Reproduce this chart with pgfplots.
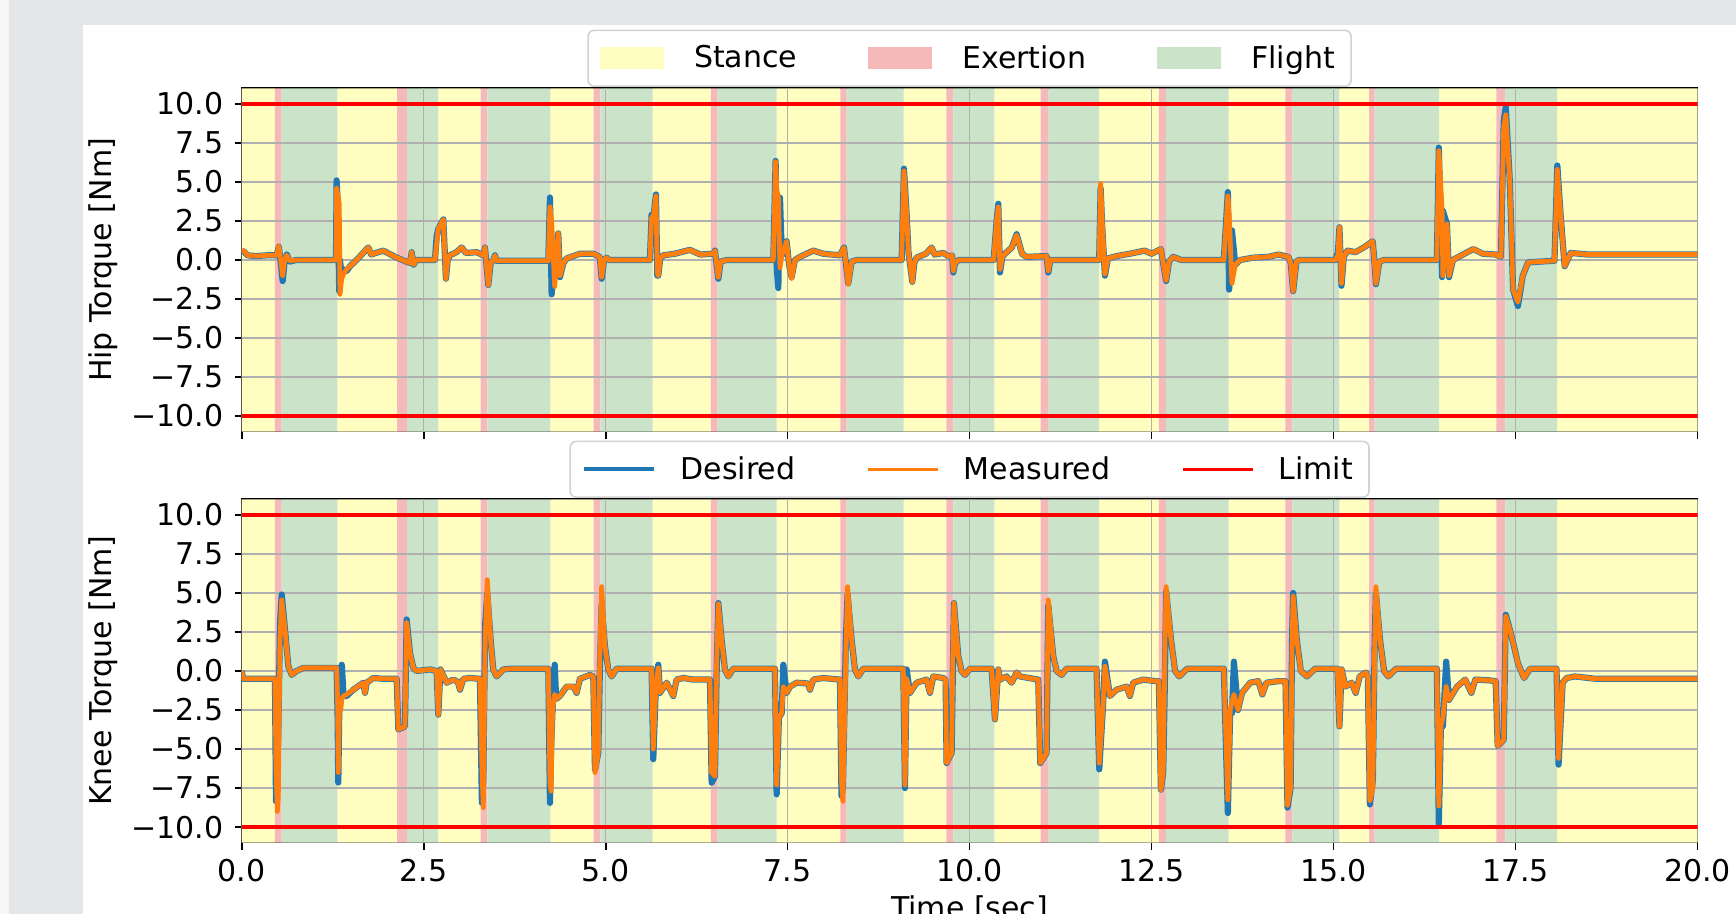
\documentclass[border=0pt]{standalone}
\usepackage{fontspec}
\setmainfont{DejaVu Sans}
\usepackage{pgfplots}
\pgfplotsset{compat=1.18}
\usepackage{pgfplotstable}

\definecolor{tabblue}{RGB}{31,119,180}
\definecolor{taborange}{RGB}{255,127,14}
\definecolor{stancecol}{RGB}{255,253,192}
\definecolor{exertcol}{RGB}{245,185,185}
\definecolor{flightcol}{RGB}{203,228,201}
\definecolor{gridcol}{RGB}{176,176,176}
\definecolor{bggray}{RGB}{229,230,232}
\definecolor{leftlight}{RGB}{246,246,246}
\definecolor{legframe}{RGB}{210,210,210}

\pgfplotstableread{
x y
0 -11
0 11
0.457 11
0.457 -11
1.314 -11
1.314 11
2.134 11
2.134 -11
2.70 -11
2.70 11
3.283 11
3.283 -11
4.24 -11
4.24 11
4.836 11
4.836 -11
5.646 -11
5.646 11
6.447 11
6.447 -11
7.35 -11
7.35 11
8.224 11
8.224 -11
9.095 -11
9.095 11
9.68 11
9.68 -11
10.34 -11
10.34 11
10.976 11
10.976 -11
11.778 -11
11.778 11
12.60 11
12.60 -11
13.558 -11
13.558 11
14.338 11
14.338 -11
15.08 -11
15.08 11
15.487 11
15.487 -11
16.45 -11
16.45 11
17.236 11
17.236 -11
18.07 -11
18.07 11
20 11
20 -11
}\stancetable

\pgfplotstableread{
x y
0.457 -11
0.457 11
0.549 11
0.549 -11
2.134 -11
2.134 11
2.271 11
2.271 -11
3.283 -11
3.283 11
3.374 11
3.374 -11
4.836 -11
4.836 11
4.927 11
4.927 -11
6.447 -11
6.447 11
6.539 11
6.539 -11
8.224 -11
8.224 11
8.311 11
8.311 -11
9.68 -11
9.68 11
9.776 11
9.776 -11
10.976 -11
10.976 11
11.086 11
11.086 -11
12.60 -11
12.60 11
12.695 11
12.695 -11
14.338 -11
14.338 11
14.433 11
14.433 -11
15.487 -11
15.487 11
15.564 11
15.564 -11
17.236 -11
17.236 11
17.36 11
17.36 -11
}\exerttable

\pgfplotstableread{
x y
0.549 -11
0.549 11
1.314 11
1.314 -11
2.271 -11
2.271 11
2.70 11
2.70 -11
3.374 -11
3.374 11
4.24 11
4.24 -11
4.927 -11
4.927 11
5.646 11
5.646 -11
6.539 -11
6.539 11
7.35 11
7.35 -11
8.311 -11
8.311 11
9.095 11
9.095 -11
9.776 -11
9.776 11
10.34 11
10.34 -11
11.086 -11
11.086 11
11.778 11
11.778 -11
12.695 -11
12.695 11
13.558 11
13.558 -11
14.433 -11
14.433 11
15.08 11
15.08 -11
15.564 -11
15.564 11
16.45 11
16.45 -11
17.36 -11
17.36 11
18.07 11
18.07 -11
}\flighttable

\pgfplotstableread{
t d m
0.000 0.45 0.55
0.030 0.55 0.6
0.080 0.3 0.3
0.200 0.25 0.25
0.350 0.3 0.3
0.480 0.3 0.3
0.510 0.85 0.9
0.530 0.1 0.2
0.563 -1.35 -1.0
0.590 -0.1 0.0
0.620 0.35 0.3
0.660 -0.1 -0.05
0.750 0.0 0.0
1.295 0.0 0.0
1.304 5.1 4.6
1.320 3.6 4.2
1.340 -2.0 3.6
1.350 0.0 -2.2
1.373 -1.0 -1.2
1.400 -0.6 -0.9
1.442 -0.7 -0.6
1.488 -0.4 -0.4
1.600 0.1 0.1
1.717 0.7 0.7
1.740 0.8 0.8
1.780 0.35 0.35
1.808 0.4 0.4
1.945 0.6 0.6
2.129 0.15 0.15
2.312 -0.2 -0.2
2.335 0.5 0.5
2.360 -0.3 -0.3
2.400 0.0 0.0
2.655 0.0 0.0
2.678 1.5 1.0
2.701 2.0 2.0
2.770 2.6 2.6
2.790 0.5 0.5
2.806 -1.2 -1.2
2.830 0.0 0.0
2.861 0.3 0.3
2.950 0.5 0.5
3.021 0.8 0.8
3.080 0.45 0.45
3.228 0.5 0.5
3.320 0.3 0.3
3.342 0.8 0.8
3.388 -1.6 -1.6
3.420 -0.2 -0.2
3.457 0.0 0.0
3.479 0.3 0.3
3.500 -0.05 -0.05
4.212 -0.05 -0.05
4.235 4.0 3.4
4.258 -2.2 2.5
4.300 0.5 -1.7
4.349 1.7 1.7
4.372 -1.1 -1.0
4.420 -0.2 -0.2
4.464 0.1 0.1
4.647 0.4 0.4
4.830 0.4 0.4
4.920 0.2 0.2
4.945 -1.2 -1.1
4.980 0.0 0.0
5.013 0.15 0.15
5.050 0.0 0.0
5.608 0.0 0.0
5.631 2.9 2.7
5.660 2.9 2.9
5.691 4.2 4.1
5.710 -1.0 -0.8
5.723 -1.0 -1.0
5.750 0.1 0.1
5.792 0.3 0.3
5.950 0.4 0.4
6.158 0.65 0.65
6.300 0.35 0.35
6.479 0.4 0.4
6.502 0.6 0.6
6.548 -1.2 -1.1
6.580 -0.1 -0.1
6.662 0.0 0.0
7.303 0.0 0.0
7.335 6.35 6.3
7.350 -0.5 4.5
7.372 -1.8 4.0
7.395 4.0 -0.5
7.420 0.3 0.3
7.486 1.2 1.2
7.520 -0.3 -0.3
7.555 -1.1 -1.2
7.600 0.0 0.0
7.669 0.2 0.2
7.853 0.6 0.6
7.990 0.4 0.4
8.219 0.3 0.3
8.274 0.8 0.8
8.300 -0.2 -0.2
8.333 -1.5 -1.55
8.380 -0.1 -0.1
8.448 0.0 0.0
9.066 0.0 0.0
9.098 5.85 5.7
9.135 2.9 2.9
9.160 0.5 0.5
9.213 -1.4 -1.4
9.240 -0.2 -0.2
9.272 0.15 0.15
9.400 0.4 0.4
9.478 0.8 0.8
9.520 0.35 0.35
9.638 0.45 0.45
9.720 0.2 0.2
9.760 0.3 0.3
9.776 -0.8 -0.7
9.800 -0.2 -0.2
9.850 0.0 0.0
10.330 0.0 0.0
10.371 2.5 2.5
10.394 3.6 3.4
10.417 -0.8 -0.6
10.450 0.2 0.2
10.485 0.4 0.4
10.580 0.8 0.8
10.646 1.65 1.6
10.720 0.4 0.4
10.783 0.2 0.2
11.058 0.25 0.25
11.081 -0.8 -0.7
11.110 0.0 0.0
11.780 0.0 0.0
11.800 4.6 4.9
11.820 2.3 2.6
11.859 -1.0 -0.9
11.900 0.1 0.1
12.019 0.25 0.25
12.200 0.4 0.4
12.405 0.6 0.6
12.500 0.4 0.4
12.628 0.7 0.7
12.700 -1.35 -1.3
12.740 -0.1 -0.1
12.795 0.2 0.2
12.907 0.0 0.0
13.492 0.0 0.0
13.548 4.35 4.1
13.565 -1.9 3.0
13.604 1.9 -1.5
13.650 -0.3 -0.3
13.715 0.0 0.0
13.900 0.15 0.15
14.100 0.2 0.2
14.245 0.35 0.35
14.380 0.2 0.2
14.412 -0.2 -0.2
14.445 -2.0 -2.0
14.490 -0.1 -0.1
14.523 0.0 0.0
15.025 0.0 0.0
15.060 0.5 0.3
15.081 2.1 2.1
15.109 -1.65 -1.5
15.140 0.2 0.2
15.192 0.6 0.6
15.300 0.5 0.5
15.415 0.8 0.8
15.538 1.2 1.2
15.560 0.0 0.0
15.582 -1.55 -1.5
15.630 -0.1 -0.1
15.694 0.0 0.0
16.419 0.0 0.0
16.446 7.2 7.0
16.491 -1.1 3.2
16.502 3.15 -1.0
16.558 2.3 2.3
16.586 -1.1 -1.0
16.640 0.0 0.0
16.697 0.15 0.15
16.920 0.7 0.7
17.050 0.4 0.4
17.227 0.35 0.35
17.300 0.2 0.2
17.338 8.9 8.5
17.366 9.8 9.3
17.422 5.0 5.0
17.466 -1.9 -1.9
17.533 -2.95 -2.7
17.600 -1.0 -1.0
17.673 -0.15 -0.15
18.035 -0.05 -0.05
18.074 6.05 5.8
18.119 2.9 2.9
18.175 -0.4 -0.4
18.258 0.45 0.45
18.500 0.35 0.35
20.000 0.35 0.35
}\hiptable

\pgfplotstableread{
t d m
0.000 0.0 0.0
0.020 -0.5 -0.5
0.457 -0.5 -0.5
0.471 -8.35 -6.0
0.490 -6.0 -9.0
0.503 -4.0 -8.0
0.526 3.0 2.0
0.550 4.9 4.55
0.595 2.65 2.65
0.641 0.3 0.3
0.687 -0.25 -0.25
0.755 0.0 0.0
0.847 0.2 0.2
1.304 0.2 0.2
1.318 -3.0 -2.0
1.327 -7.15 -6.5
1.340 -2.7 -2.7
1.360 -1.5 -2.5
1.375 0.4 -1.8
1.400 -1.6 -1.6
1.442 -1.6 -1.5
1.533 -1.2 -1.2
1.671 -0.75 -0.75
1.694 -1.4 -1.4
1.717 -0.75 -0.75
1.808 -0.45 -0.45
1.945 -0.5 -0.5
2.129 -0.5 -0.5
2.152 -3.75 -3.75
2.243 -3.55 -3.55
2.266 3.3 3.1
2.312 1.15 1.15
2.358 0.2 0.2
2.403 0.0 0.0
2.587 0.1 0.1
2.678 0.0 0.0
2.701 -2.8 -2.8
2.730 0.1 0.1
2.770 -0.3 -0.3
2.815 -0.75 -0.75
2.907 -0.55 -0.55
2.970 -0.7 -0.7
2.999 -1.2 -1.2
3.044 -0.5 -0.5
3.136 -0.45 -0.45
3.273 -0.5 -0.5
3.300 -8.45 -6.0
3.319 -7.0 -8.75
3.345 3.0 2.0
3.374 5.0 5.85
3.420 2.0 2.0
3.456 0.1 0.1
3.502 -0.35 -0.35
3.594 0.1 0.1
3.700 0.15 0.15
4.212 0.15 0.15
4.235 -8.45 -7.0
4.250 -5.0 -7.7
4.270 -2.5 -2.5
4.300 0.4 -1.5
4.320 -1.8 -1.8
4.372 -1.6 -1.6
4.464 -1.0 -1.0
4.560 -1.0 -1.0
4.601 -1.4 -1.4
4.647 -0.5 -0.5
4.784 -0.25 -0.25
4.830 -0.35 -0.35
4.853 -6.3 -6.5
4.899 -5.25 -5.25
4.920 0.0 1.0
4.945 4.25 5.4
4.990 1.6 1.6
5.036 0.1 0.1
5.082 -0.35 -0.35
5.151 0.15 0.15
5.631 0.15 0.15
5.654 -5.65 -5.0
5.690 -1.0 -1.0
5.723 0.4 0.2
5.746 -1.4 -1.4
5.838 -0.75 -0.75
5.929 -1.6 -1.6
5.975 -0.55 -0.55
6.067 -0.45 -0.45
6.204 -0.55 -0.55
6.433 -0.55 -0.55
6.456 -7.15 -6.5
6.502 -6.75 -6.75
6.525 0.0 0.5
6.548 4.35 4.3
6.593 2.0 2.0
6.639 0.1 0.1
6.685 -0.35 -0.35
6.754 0.15 0.15
7.326 0.15 0.15
7.349 -7.9 -7.3
7.380 -3.0 -3.0
7.418 -2.7 -2.7
7.441 0.4 -1.0
7.486 -1.4 -1.4
7.532 -1.0 -1.0
7.624 -0.75 -0.75
7.780 -0.8 -0.8
7.807 -1.2 -1.2
7.853 -0.55 -0.55
7.990 -0.45 -0.45
8.219 -0.55 -0.55
8.240 -8.0 -7.0
8.260 -7.5 -8.35
8.300 2.0 1.0
8.324 4.9 5.4
8.379 2.0 2.0
8.425 0.1 0.1
8.471 -0.35 -0.35
8.539 0.15 0.15
9.089 0.15 0.15
9.112 -7.5 -7.3
9.135 0.1 -0.5
9.180 -1.4 -1.4
9.272 -0.75 -0.75
9.409 -0.55 -0.55
9.455 -1.4 -1.4
9.501 -0.35 -0.35
9.638 -0.45 -0.45
9.670 -0.55 -0.55
9.684 -5.9 -5.9
9.753 -5.25 -5.25
9.770 0.0 1.0
9.785 4.35 4.35
9.844 0.95 0.95
9.890 0.0 0.0
9.936 -0.25 -0.25
10.005 0.15 0.15
10.302 0.15 0.15
10.348 -3.1 -3.1
10.394 0.1 0.1
10.417 -0.55 -0.55
10.508 -0.35 -0.35
10.577 -0.75 -0.75
10.646 -0.1 -0.1
10.691 -0.35 -0.35
10.943 -0.55 -0.55
10.970 -5.9 -5.9
11.058 -5.25 -5.25
11.070 0.0 0.5
11.081 4.2 4.55
11.149 0.95 0.95
11.195 0.0 0.0
11.264 -0.25 -0.25
11.333 0.15 0.15
11.744 0.15 0.15
11.781 -6.3 -5.9
11.836 -2.0 -2.0
11.859 0.6 0.3
11.928 -1.6 -1.6
12.019 -1.2 -1.2
12.157 -1.0 -1.0
12.202 -1.6 -1.6
12.248 -0.75 -0.75
12.385 -0.55 -0.55
12.550 -0.65 -0.65
12.600 -0.65 -0.65
12.628 -7.6 -7.6
12.660 -6.5 -6.5
12.685 0.0 2.0
12.700 5.1 5.4
12.767 2.0 2.0
12.823 0.0 0.0
12.879 -0.35 -0.35
12.990 0.15 0.15
13.492 0.15 0.15
13.548 -9.1 -8.25
13.580 -2.5 -2.5
13.604 -2.7 -2.0
13.631 0.6 -1.5
13.687 -2.5 -2.5
13.743 -1.4 -1.4
13.854 -0.75 -0.75
13.966 -0.65 -0.65
14.022 -1.5 -1.5
14.077 -0.75 -0.75
14.245 -0.65 -0.65
14.340 -0.65 -0.65
14.367 -8.75 -8.6
14.410 -7.5 -7.5
14.430 2.0 1.5
14.445 5.0 4.8
14.495 2.0 2.0
14.551 0.0 0.0
14.635 -0.35 -0.35
14.746 0.15 0.15
15.053 0.15 0.15
15.081 -3.55 -3.55
15.110 0.1 0.1
15.164 -1.0 -1.0
15.248 -0.75 -0.75
15.304 -1.4 -1.4
15.360 -0.35 -0.35
15.443 -0.1 -0.1
15.471 -0.35 -0.35
15.499 -8.55 -8.3
15.540 -7.0 -7.5
15.565 2.0 1.5
15.582 5.0 5.4
15.638 2.0 2.0
15.694 0.0 0.0
15.750 -0.35 -0.35
15.861 0.15 0.15
16.419 0.15 0.15
16.446 -9.8 -8.65
16.475 -3.5 -3.5
16.502 -3.55 -3.0
16.547 0.6 -1.0
16.586 -1.85 -1.85
16.697 -1.0 -1.0
16.809 -0.55 -0.55
16.893 -1.4 -1.4
16.948 -0.55 -0.55
17.143 -0.6 -0.6
17.227 -0.65 -0.65
17.255 -4.8 -4.8
17.338 -4.4 -4.4
17.366 3.6 3.5
17.422 2.65 2.65
17.478 1.6 1.6
17.533 0.5 0.5
17.617 -0.45 -0.45
17.701 0.15 0.15
17.812 0.15 0.15
18.063 0.15 0.15
18.091 -6.0 -5.6
18.147 -0.75 -0.75
18.202 -0.45 -0.45
18.314 -0.35 -0.35
18.600 -0.5 -0.5
20.000 -0.5 -0.5
}\kneetable

\pgfplotsset{
  torqueaxis/.style={
    scale only axis,
    width=727.9pt, height=171.7pt,
    xmin=0, xmax=20, ymin=-11, ymax=11,
    axis line style={line width=0.8pt, black},
    xtick={0,2.5,5,7.5,10,12.5,15,17.5,20},
    ytick={-10,-7.5,-5,-2.5,0,2.5,5,7.5,10},
    yticklabels={−10.0,−7.5,−5.0,−2.5,0.0,2.5,5.0,7.5,10.0},
    xtick pos=bottom, ytick pos=left,
    tick align=outside,
    major tick length=3.5pt,
    tick style={black, line width=0.85pt},
    tick label style={font=\fontsize{15}{18}\selectfont, inner sep=0pt},
    yticklabel style={anchor=east, xshift=-5.6pt},
    label style={font=\fontsize{15}{18}\selectfont},
    ylabel style={at={(axis description cs:-0.0953,0.5)}, anchor=center},
    legend columns=3,
    legend cell align=left,
    legend style={
      at={(0.5,1)}, anchor=south, yshift=0.65pt,
      draw=legframe, rounded corners=3pt, line width=0.8pt, fill=white,
      font=\fontsize{15}{18}\selectfont,
      inner xsep=6pt, inner ysep=5.5pt,
      /tikz/every odd column/.append style={column sep=13pt},
      /tikz/every even column/.append style={column sep=33.5pt},
    },
  },
  bandstyle/.style={draw=none, fill=#1, forget plot},
  patchlegend/.style={legend image code/.code={\fill[fill=#1, draw=none, sharp corners] (0pt,-5.4pt) rectangle (32pt,5.4pt);}},
  linelegend/.style={legend image code/.code={\draw[##1, sharp corners, line width=#1] (0pt,0pt) -- (35pt,0pt);}},
  gridlines/.style={gridcol, line width=0.8pt, forget plot},
}

\begin{document}
\begin{tikzpicture}
\useasboundingbox (0pt,0pt) rectangle (868pt,457pt);
\fill[bggray] (0pt,0pt) rectangle (868pt,457pt);
\fill[leftlight] (0pt,0pt) rectangle (4.5pt,457pt);
\fill[white] (41.5pt,0pt) rectangle (868pt,444.5pt);

% Hip
\begin{axis}[torqueaxis,
  at={(120.85pt,241.15pt)}, anchor=south west,
  xticklabels={},
  ylabel={Hip Torque [Nm]},
]
\addplot[bandstyle=stancecol] table[x=x,y=y] {\stancetable};
\addplot[bandstyle=exertcol] table[x=x,y=y] {\exerttable};
\addplot[bandstyle=flightcol] table[x=x,y=y] {\flighttable};
\addlegendimage{patchlegend=stancecol}
\addlegendentry{Stance}
\addlegendimage{patchlegend=exertcol}
\addlegendentry{Exertion}
\addlegendimage{patchlegend=flightcol}
\addlegendentry{Flight}
\pgfplotsinvokeforeach{2.5,5,7.5,10,12.5,15,17.5}{\addplot[gridlines] coordinates {(#1,-11) (#1,11)};}
\pgfplotsinvokeforeach{-10,-7.5,-5,-2.5,0,2.5,5,7.5,10}{\addplot[gridlines] coordinates {(0,#1) (20,#1)};}
\addplot[tabblue, line width=3.1pt, line join=round, forget plot] table[x=t,y=d] {\hiptable};
\addplot[taborange, line width=2.4pt, line join=round, forget plot] table[x=t,y=m] {\hiptable};
\addplot[red, line width=1.7pt, forget plot] coordinates {(0,10) (20,10)};
\addplot[red, line width=1.7pt, forget plot] coordinates {(0,-10) (20,-10)};
\end{axis}

% Knee
\begin{axis}[torqueaxis,
  at={(120.85pt,35.65pt)}, anchor=south west,
  xticklabels={0.0,2.5,5.0,7.5,10.0,12.5,15.0,17.5,20.0},
  xticklabel style={anchor=base, yshift=-16.15pt},
  ylabel={Knee Torque [Nm]},
  xlabel={Time [sec]},
  xlabel style={at={(axis description cs:0.5,-0.2201)}, anchor=base},
  legend style={/tikz/every odd column/.append style={column sep=10pt}},
]
\addplot[bandstyle=stancecol] table[x=x,y=y] {\stancetable};
\addplot[bandstyle=exertcol] table[x=x,y=y] {\exerttable};
\addplot[bandstyle=flightcol] table[x=x,y=y] {\flighttable};
\pgfplotsinvokeforeach{2.5,5,7.5,10,12.5,15,17.5}{\addplot[gridlines] coordinates {(#1,-11) (#1,11)};}
\pgfplotsinvokeforeach{-10,-7.5,-5,-2.5,0,2.5,5,7.5,10}{\addplot[gridlines] coordinates {(0,#1) (20,#1)};}
\addplot[tabblue, line width=3.1pt, line join=round, linelegend=2.2pt] table[x=t,y=d] {\kneetable};
\addlegendentry{Desired}
\addplot[taborange, line width=2.4pt, line join=round, linelegend=1.7pt] table[x=t,y=m] {\kneetable};
\addlegendentry{Measured}
\addplot[red, line width=1.7pt, linelegend=1.7pt] coordinates {(0,10) (20,10)};
\addlegendentry{Limit}
\addplot[red, line width=1.7pt, forget plot] coordinates {(0,-10) (20,-10)};
\end{axis}
\end{tikzpicture}
\end{document}
